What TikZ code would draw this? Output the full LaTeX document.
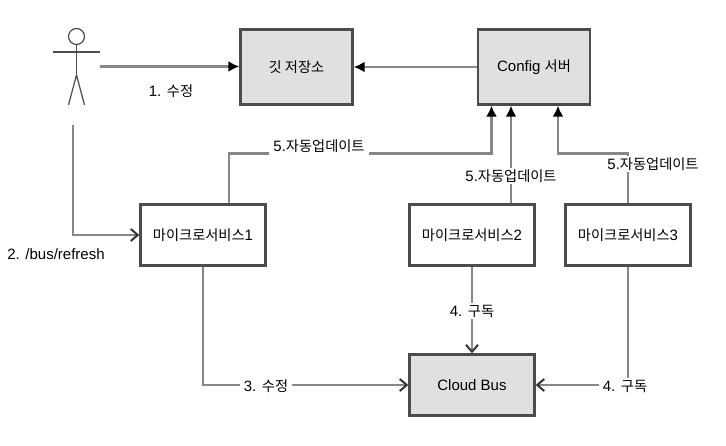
\documentclass[tikz,border=0pt]{standalone}
\usepackage{fontspec}
\setmainfont{Liberation Sans}
\newfontfamily\kr[Scale=0.95]{Noto Sans CJK KR}
\usetikzlibrary{positioning,arrows.meta,calc}
\definecolor{boxgray}{RGB}{224,224,224}
\definecolor{edgedark}{RGB}{76,76,76}
\definecolor{linegray}{RGB}{135,135,135}
\tikzset{
    graybox/.style={draw=edgedark,line width=2.4pt,fill=boxgray,minimum width=112pt,minimum height=75pt},
    svcbox/.style={draw=edgedark,line width=2.4pt,fill=white,minimum width=125pt,minimum height=61pt},
    flow/.style={draw=linegray,line width=2.8pt},
    solidtip/.style={flow,-{Latex[black,length=11pt,width=11pt]}},
    opentip/.style={flow,-{Straight Barb[color=black!80,length=7pt,width=12pt,line width=2pt]}},
    lbl/.style={fill=white,inner xsep=4pt,inner ysep=2pt},
    stick/.style={draw=edgedark,line width=1.2pt}
}
\begin{document}
\begin{tikzpicture}[x=1pt,y=-1pt,font=\fontsize{15}{18}\selectfont]
    \useasboundingbox (0,0) rectangle (726,446);
    \node[graybox] (git) at (296.5,67) {{\kr 깃 저장소}};
    \node[graybox] (config) at (534,67) {Config {\kr 서버}};
    \node[svcbox] (msone) at (203,235) {{\kr 마이크로서비스}1};
    \node[svcbox] (mstwo) at (472,235) {{\kr 마이크로서비스}2};
    \node[svcbox] (msthree) at (628,235) {{\kr 마이크로서비스}3};
    \node[graybox,minimum width=125pt,minimum height=61pt] (bus) at (472,385) {Cloud Bus};

    \node[circle,stick,fill=white,minimum size=16pt,inner sep=0pt] (head) at (76.5,36.5) {};
    \coordinate (hip) at (76.5,75);
    \draw[stick] (head.south) -- (hip);
    \draw[stick] (53,52) -- (100,52);
    \draw[stick] (68.5,105) -- (hip) -- (84.5,105);
    \coordinate (actorright) at (100,66.5);
    \coordinate (actorfoot) at (73,125);

    \draw[solidtip] (actorright) -- (actorright -| git.west);
    \draw[solidtip] (config.west) -- (git.east);
    \draw[opentip] (actorfoot) |- (msone.west);
    \draw[solidtip] ([xshift=26pt]msone.north) -- ++(0,-49.5) -| ([xshift=-42.5pt]config.south);
    \draw[solidtip] ([xshift=39pt]mstwo.north) -- ([xshift=-23pt]config.south);
    \draw[solidtip] (msthree.north) -- ++(0,-49.5) -| ([xshift=24pt]config.south);
    \draw[opentip] (msone.south) |- (bus.west);
    \draw[opentip] (mstwo.south) -- (bus.north);
    \draw[opentip] (msthree.south) |- (bus.east);

    \node (editone) at (171,91) {1. {\kr 수정}};
    \node (refresh) at (56,254) {2. /bus/refresh};
    \node[lbl,minimum height=20pt] (autoone) at (319,146) {5.{\kr 자동업데이트}};
    \node[lbl] (autotwo) at (511,176) {5.{\kr 자동업데이트}};
    \node[lbl] (autothree) at (653,164) {5.{\kr 자동업데이트}};
    \node[lbl] (editthree) at (266,386) {3. {\kr 수정}};
    \node[lbl] (subtwo) at (472,311) {4. {\kr 구독}};
    \node[lbl] (subthree) at (625,386) {4. {\kr 구독}};
\end{tikzpicture}
\end{document}
